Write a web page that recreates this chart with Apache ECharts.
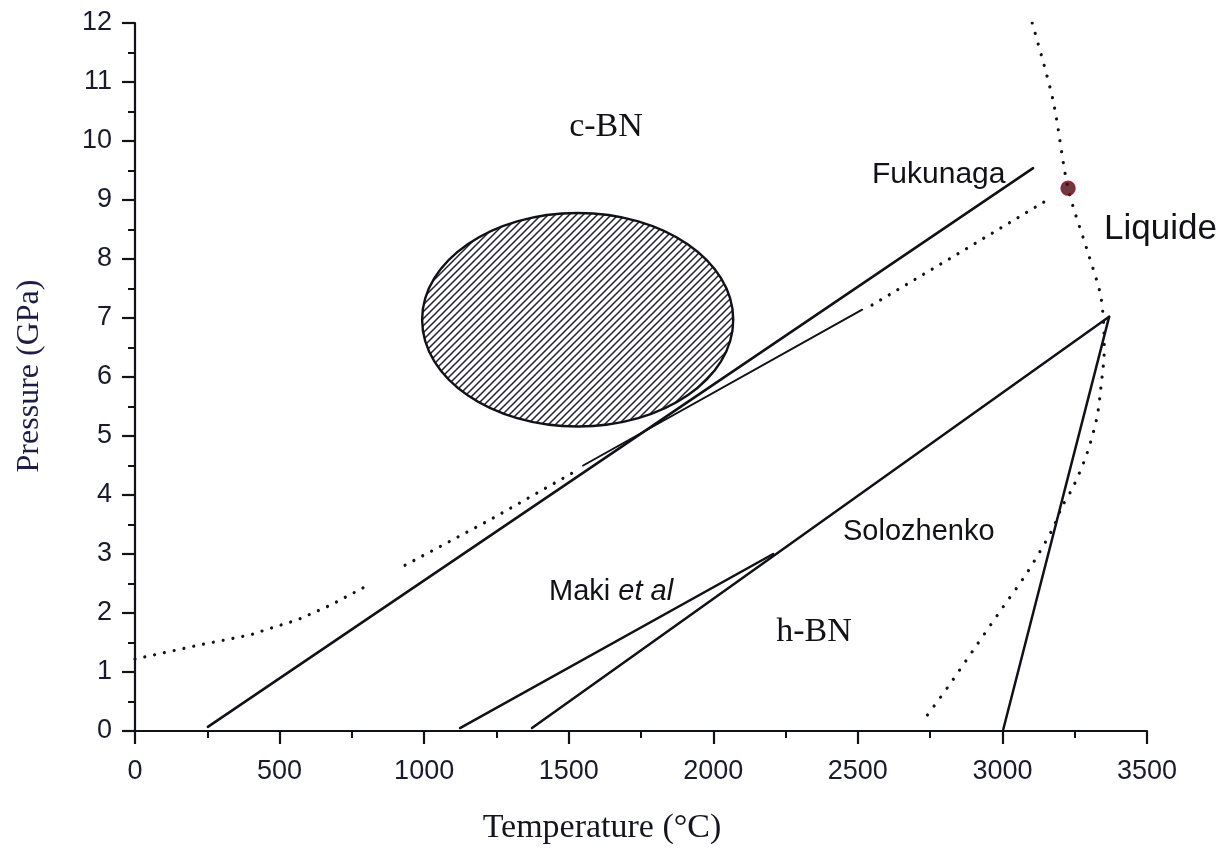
<!DOCTYPE html>
<html>
<head>
<meta charset="utf-8">
<script src="https://cdn.jsdelivr.net/npm/echarts@6/dist/echarts.min.js"></script>
<style>
html,body{margin:0;padding:0;background:#fff;}
#chart{width:1223px;height:865px;}
</style>
</head>
<body>
<div id="chart"></div>
<script>
// ---- data (Temperature °C, Pressure GPa) ----
const xTicks = [0, 500, 1000, 1500, 2000, 2500, 3000, 3500];
const yTicks = [0, 1, 2, 3, 4, 5, 6, 7, 8, 9, 10, 11, 12];
const fukunaga = [[252, 0.07], [3106, 9.54]];
const thinLine = [[1550, 4.5], [2515, 7.14]];
const dottedLow = [[0, 1.22], [225, 1.46], [400, 1.63], [480, 1.76], [560, 1.88], [675, 2.13], [790, 2.43]];
const dottedMid = [[934, 2.81], [1228, 3.58], [1529, 4.42]];
const dottedUpper = [[2549, 7.22], [2850, 8.1], [3165, 9.03]];
const meltCurve = [[3103, 12.0], [3175, 10.69], [3227, 9.2], [3293, 8.15], [3338, 7.42], [3350, 6.9], [3352, 6.46],
  [3340, 5.8], [3327, 5.32], [3293, 4.71], [3245, 4.14], [3206, 3.8], [3172, 3.41], [3085, 2.68], [3002, 2.1],
  [2899, 1.37], [2812, 0.75], [2733, 0.22]];
const solozhenko = [[1373, 0.05], [3369, 7.02]];
const hbnBoundary = [[3003, 0.03], [3369, 7.02]];
const maki = [[1124, 0.05], [2207, 3.0]];
const triplePoint = [[3227, 9.2]];
const regionA = [[1531, 6.97, 538, 1.81]]; // centre T, centre P, half-width T, half-height P

// ---- hatch pattern ----
function makeHatch() {
  const s = 7;
  const c = document.createElement('canvas');
  c.width = s; c.height = s;
  const g = c.getContext('2d');
  g.fillStyle = '#ffffff';
  g.fillRect(0, 0, s, s);
  g.strokeStyle = '#22222e';
  g.lineWidth = 1.5;
  g.beginPath();
  g.moveTo(-1, s + 1); g.lineTo(s + 1, -1);
  g.moveTo(-1, 1); g.lineTo(1, -1);
  g.moveTo(s - 1, s + 1); g.lineTo(s + 1, s - 1);
  g.stroke();
  return c;
}
const hatch = { image: makeHatch(), repeat: 'repeat' };

const ink = '#111118';
const labelColor = '#1a1a2e';
const sans = 'Liberation Sans, Arial, sans-serif';
const serif = 'Liberation Serif, Times New Roman, serif';

function lineSeries(data, width, dash, cap) {
  return {
    type: 'line', data: data, showSymbol: false, silent: true, animation: false,
    lineStyle: { color: ink, width: width, type: dash || 'solid', cap: cap || 'round' },
    z: 3
  };
}
const dots = [0.01, 10];

const chart = echarts.init(document.getElementById('chart'));
function axisCommon(margin) {
  return {
    axisLine: { show: true, lineStyle: { color: ink, width: 2.2 } },
    axisTick: { show: true, length: 13, lineStyle: { color: ink, width: 2.2 } },
    minorTick: { show: true, splitNumber: 2, length: 7, lineStyle: { color: ink, width: 2 } },
    splitLine: { show: false },
    axisLabel: { color: labelColor, fontSize: 27, fontFamily: sans, margin: margin, formatter: function (v) { return String(v); } }
  };
}

chart.setOption({
  backgroundColor: '#ffffff',
  animation: false,
  grid: { left: 135, right: 76, top: 23, bottom: 134, containLabel: false },
  xAxis: Object.assign({
    type: 'value', min: xTicks[0], max: xTicks[xTicks.length - 1], interval: xTicks[1] - xTicks[0]
  }, axisCommon(27)),
  yAxis: Object.assign({
    type: 'value', min: yTicks[0], max: yTicks[yTicks.length - 1], interval: yTicks[1] - yTicks[0]
  }, axisCommon(23)),
  series: [
    {
      type: 'custom', data: regionA, silent: true, animation: false, z: 2,
      renderItem: function (params, api) {
        const c = api.coord([api.value(0), api.value(1)]);
        const s = api.size([api.value(2), api.value(3)]);
        return {
          type: 'ellipse',
          shape: { cx: c[0], cy: c[1], rx: s[0], ry: s[1] },
          style: { fill: hatch, stroke: ink, lineWidth: 2.4 }
        };
      }
    },
    lineSeries(fukunaga, 2.5),
    lineSeries(thinLine, 2),
    lineSeries(dottedLow, 3.2, dots),
    lineSeries(dottedMid, 3.2, dots),
    lineSeries(dottedUpper, 3.2, dots),
    Object.assign(lineSeries(meltCurve, 3.2, [0.01, 11]), { smooth: 0.3 }),
    lineSeries(solozhenko, 2.5),
    lineSeries(hbnBoundary, 2.5),
    lineSeries(maki, 2.5),
    {
      type: 'scatter', data: triplePoint, symbol: 'circle', symbolSize: 14, silent: true, z: 5,
      itemStyle: { color: '#4a0810', borderColor: '#9a1424', borderWidth: 1.5 }
    }
  ],
  graphic: [
    { type: 'text', x: 606, y: 127, style: { text: 'c-BN', font: '34px ' + serif, fill: ink, textAlign: 'center', textVerticalAlign: 'middle' } },
    { type: 'text', x: 814, y: 632, style: { text: 'h-BN', font: '34px ' + serif, fill: ink, textAlign: 'center', textVerticalAlign: 'middle' } },
    { type: 'text', x: 872, y: 175, style: { text: 'Fukunaga', font: '30px ' + sans, fill: ink, textAlign: 'left', textVerticalAlign: 'middle' } },
    { type: 'text', x: 1104, y: 229, style: { text: 'Liquide', font: '35px ' + sans, fill: ink, textAlign: 'left', textVerticalAlign: 'middle' } },
    { type: 'text', x: 565, y: 318, style: { text: 'a', font: 'bold 46px ' + sans, fill: '#222230', textAlign: 'center', textVerticalAlign: 'middle' } },
    { type: 'text', x: 843, y: 532, style: { text: 'Solozhenko', font: '29px ' + sans, fill: ink, textAlign: 'left', textVerticalAlign: 'middle' } },
    { type: 'text', x: 549, y: 592, style: {
        text: '{n|Maki }{i|et al}', textAlign: 'left', textVerticalAlign: 'middle',
        rich: { n: { font: '29px ' + sans, fill: ink }, i: { font: 'italic 29px ' + sans, fill: ink } }
    } },
    { type: 'text', x: 602, y: 828, style: { text: 'Temperature (°C)', font: '34px ' + serif, fill: '#151520', textAlign: 'center', textVerticalAlign: 'middle' } },
    { type: 'text', x: 30, y: 376, rotation: Math.PI / 2, style: { text: 'Pressure (GPa)', font: '32px ' + serif, fill: '#1c1c44', textAlign: 'center', textVerticalAlign: 'middle' } }
  ]
});
</script>
</body>
</html>
